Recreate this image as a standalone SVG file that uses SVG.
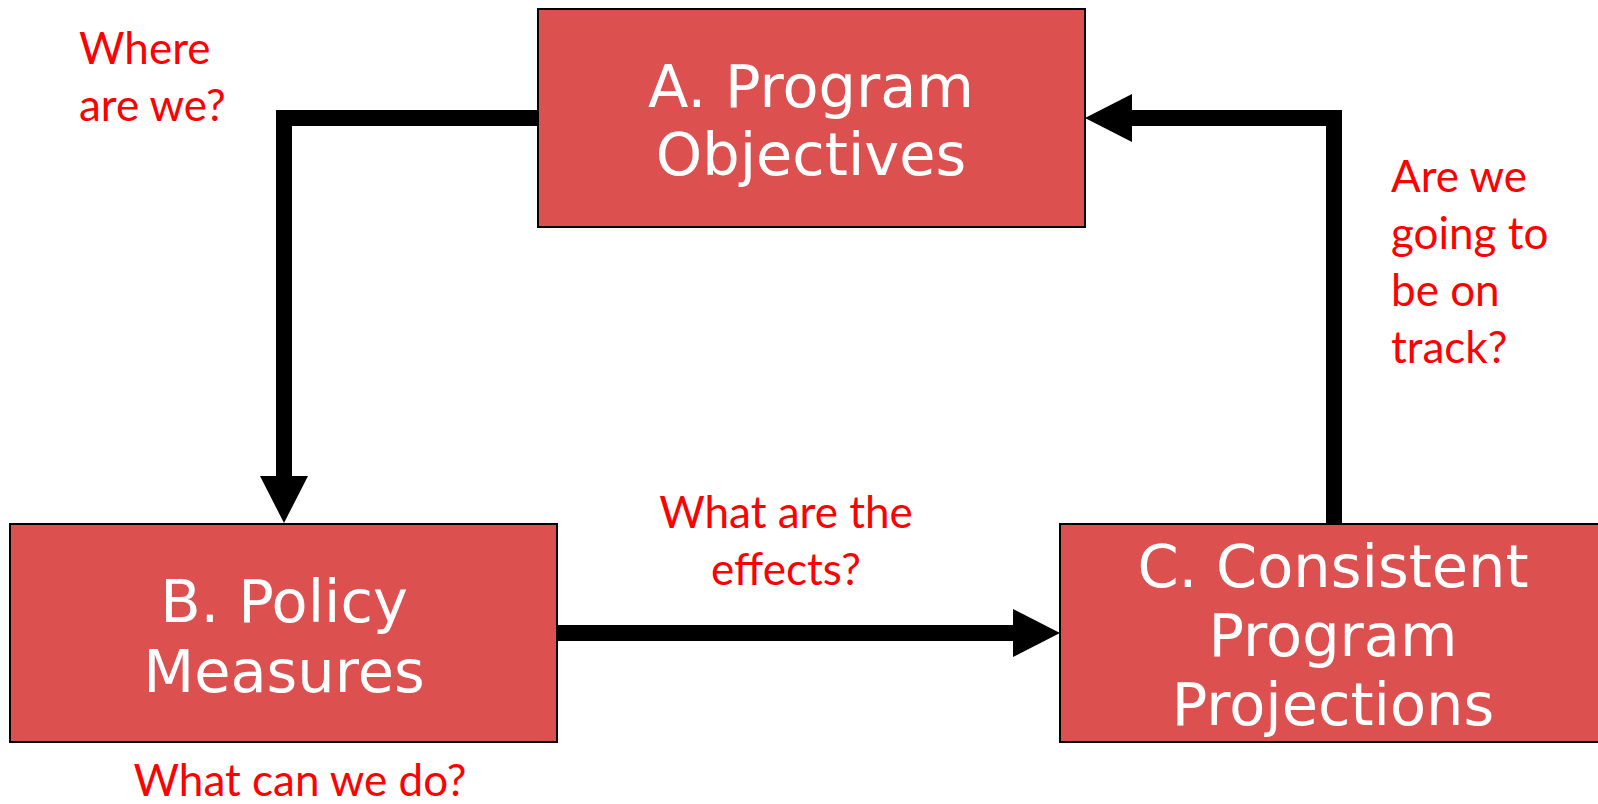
<svg xmlns="http://www.w3.org/2000/svg" width="1598" height="804" viewBox="0 0 1598 804">
  <style>
    .box { fill: #DD5050; stroke: #000000; stroke-width: 2; }
    .lbl { font-family: "DejaVu Sans", Verdana, sans-serif; font-size: 59px; fill: #FFFFFF; text-anchor: middle; }
    .q { font-family: Lato, "Liberation Sans", sans-serif; font-size: 44px; fill: #FF0000; }
    .conn { fill: none; stroke: #000000; stroke-width: 16; stroke-linejoin: miter; }
  </style>
  <defs>
    <marker id="arrow" viewBox="0 0 47 48" markerWidth="47" markerHeight="48" refX="0" refY="24" orient="auto" markerUnits="userSpaceOnUse">
      <path d="M0,0 L47,24 L0,48 Z" fill="#000000"/>
    </marker>
  </defs>
  <rect width="1598" height="804" fill="#FFFFFF"/>

  <g id="connectors">
    <path class="conn" d="M538,118 L284,118 L284,476" marker-end="url(#arrow)"/>
    <path class="conn" d="M557,633 L1013,633" marker-end="url(#arrow)"/>
    <path class="conn" d="M1334,524 L1334,118 L1132,118" marker-end="url(#arrow)"/>
  </g>

  <g id="nodeA">
    <rect class="box" x="538" y="9" width="547" height="218"/>
    <text class="lbl" x="811" y="107">A. Program</text>
    <text class="lbl" x="811" y="175">Objectives</text>
  </g>
  <g id="nodeB">
    <rect class="box" x="10" y="524" width="547" height="218"/>
    <text class="lbl" x="284" y="622">B. Policy</text>
    <text class="lbl" x="284" y="692">Measures</text>
  </g>
  <g id="nodeC">
    <rect class="box" x="1060" y="524" width="540" height="218"/>
    <text class="lbl" x="1333" y="587">C. Consistent</text>
    <text class="lbl" x="1333" y="656">Program</text>
    <text class="lbl" x="1333" y="725">Projections</text>
  </g>

  <g id="questions">
    <text class="q" x="79" y="64">Where</text>
    <text class="q" x="79" y="121">are we?</text>
    <text class="q" x="786" y="528" text-anchor="middle">What are the</text>
    <text class="q" x="786" y="585" text-anchor="middle">effects?</text>
    <text class="q" x="1391" y="192">Are we</text>
    <text class="q" x="1391" y="249">going to</text>
    <text class="q" x="1391" y="306">be on</text>
    <text class="q" x="1391" y="363">track?</text>
    <text class="q" x="300" y="796" text-anchor="middle">What can we do?</text>
  </g>
</svg>
